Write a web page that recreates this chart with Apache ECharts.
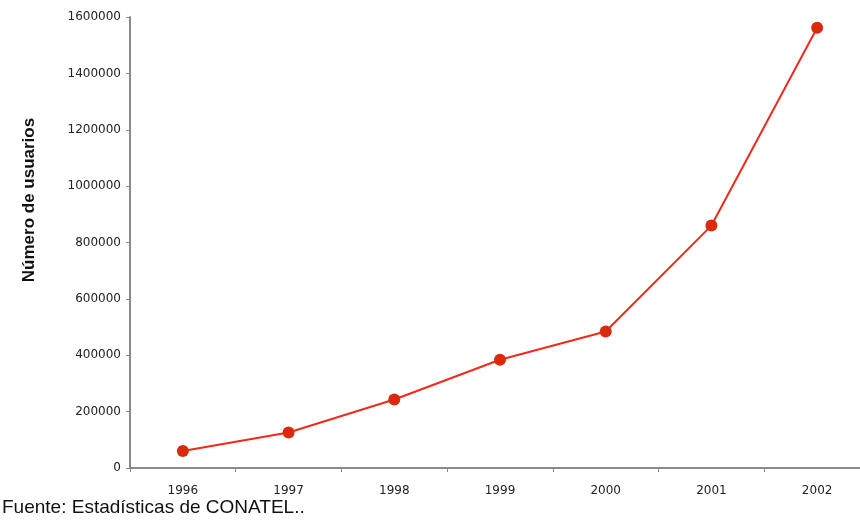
<!DOCTYPE html>
<html>
<head>
<meta charset="utf-8">
<script src="https://cdn.jsdelivr.net/npm/echarts@6/dist/echarts.min.js"></script>
<style>html,body{margin:0;padding:0;background:#fff}#c{width:860px;height:523px}</style>
</head>
<body>
<div id="c"></div>
<script>
const years = ['1996','1997','1998','1999','2000','2001','2002'];
const usuarios = [60000, 126000, 243000, 384000, 484000, 860000, 1562000];
const yAxisTitle = 'Número de usuarios';
const sourceNote = 'Fuente: Estadísticas de CONATEL..';

const chart = echarts.init(document.getElementById('c'));
chart.setOption({
  animation: false,
  backgroundColor: '#ffffff',
  grid: { left: 130, top: 17, right: -10, bottom: 55, containLabel: false, outerBoundsMode: 'none' },
  graphic: [{
    type: 'text', left: 2, top: 498,
    style: { text: sourceNote, font: '19px "Liberation Sans", Arial, sans-serif', fill: '#111' }
  }, {
    type: 'text', x: 38, y: 200, rotation: Math.PI / 2,
    style: { text: yAxisTitle, font: 'bold 17px "Liberation Sans", Arial, sans-serif', fill: '#111',
             align: 'center', verticalAlign: 'bottom' }
  }],
  xAxis: {
    type: 'category', data: years, boundaryGap: true,
    axisLine: { lineStyle: { color: '#8a8a8a', width: 2 } },
    axisTick: { show: true, alignWithLabel: false, length: 4, lineStyle: { color: '#8a8a8a', width: 1 } },
    axisLabel: { color: '#222', fontSize: 12, fontFamily: 'DejaVu Sans, Verdana, sans-serif', margin: 17 }
  },
  yAxis: {
    type: 'value', min: 0, max: 1600000, interval: 200000,
    axisLine: { show: true, lineStyle: { color: '#8a8a8a', width: 2 } },
    axisTick: { show: true, length: 4, lineStyle: { color: '#8a8a8a', width: 1 } },
    splitLine: { show: false },
    axisLabel: { color: '#222', fontSize: 12, fontFamily: 'DejaVu Sans, Verdana, sans-serif', margin: 9,
                 formatter: function (v) { return String(v); } }
  },
  series: [{
    type: 'line', data: usuarios,
    symbol: 'circle', symbolSize: 12,
    lineStyle: { color: '#ee2a1c', width: 2 },
    itemStyle: { color: '#d92a0c' }
  }]
});
</script>
</body>
</html>
